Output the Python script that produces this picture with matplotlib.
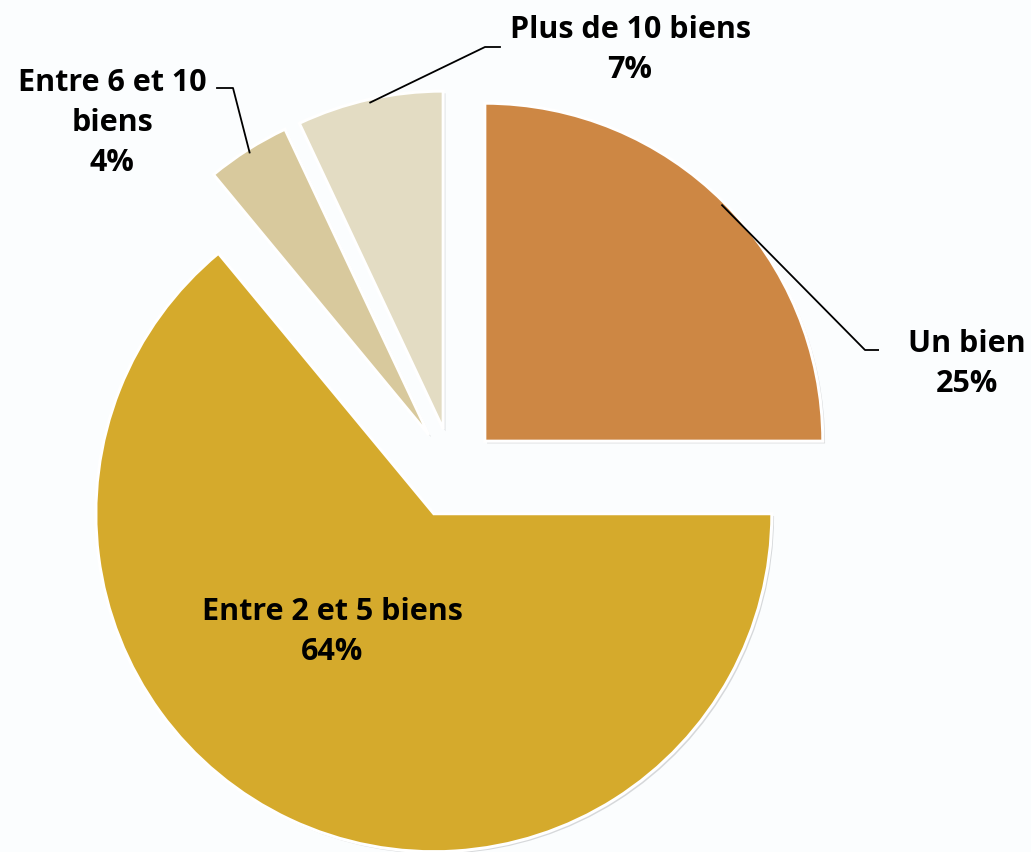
import numpy as np
import matplotlib
matplotlib.use("Agg")
import matplotlib.pyplot as plt

labels = ["Un bien", "Entre 2 et 5 biens", "Entre 6 et 10\nbiens", "Plus de 10 biens"]
values = [25, 64, 4, 7]
colors = ["#CD8744", "#D5AA2C", "#D8C99D", "#E3DCC3"]

W, H = 1031, 852
fig = plt.figure(figsize=(W / 100, H / 100), dpi=100)
fig.patch.set_facecolor("#FBFDFE")
ax = fig.add_axes([0, 0, 1, 1])
ax.set_xlim(0, W)
ax.set_ylim(0, H)
ax.set_aspect("equal")
ax.axis("off")

R = 338
center = (453, H - 473)
explode = [45] * len(values)
wedges, _ = ax.pie(values, radius=R, center=center, startangle=90, counterclock=False,
                   colors=colors, explode=explode,
                   wedgeprops=dict(edgecolor="white", linewidth=2.2),
                   shadow=dict(ox=1.6, oy=-1.6, facecolor="#a9acb0", edgecolor="none", alpha=0.45))
ax.set_xlim(0, W)
ax.set_ylim(0, H)

font = dict(family=["Open Sans", "DejaVu Sans"], fontweight="bold", fontsize=22, color="black",
            ha="center", va="center", linespacing=1.42)
pct = [f"{v}%" for v in values]

def edge_point(w, frac=1.0):
    th = np.deg2rad((w.theta1 + w.theta2) / 2)
    cx, cy = w.center
    return cx + w.r * frac * np.cos(th), cy + w.r * frac * np.sin(th)

# Un bien
p = edge_point(wedges[0], 0.99)
ax.plot([p[0], 865, 879], [p[1], H - 350, H - 350], color="black", lw=1.3, solid_capstyle="butt")
ax.text(967, H - 364, f"{labels[0]}\n{pct[0]}", **font)

# Plus de 10 biens
p = edge_point(wedges[3], 0.99)
ax.plot([p[0], 485, 500], [p[1], H - 47, H - 47], color="black", lw=1.3)
ax.text(630, H - 50, f"{labels[3]}\n{pct[3]}", **font)

# Entre 6 et 10 biens
p = edge_point(wedges[2], 0.99)
ax.plot([p[0], 233, 217], [p[1], H - 88, H - 88], color="black", lw=1.3)
ax.text(112, H - 123, f"{labels[2]}\n{pct[2]}", **font)

# Entre 2 et 5 biens (inside)
ax.text(332, H - 632, f"{labels[1]}\n{pct[1]}", **font)

fig.savefig("out.png", dpi=100, facecolor=fig.get_facecolor())
